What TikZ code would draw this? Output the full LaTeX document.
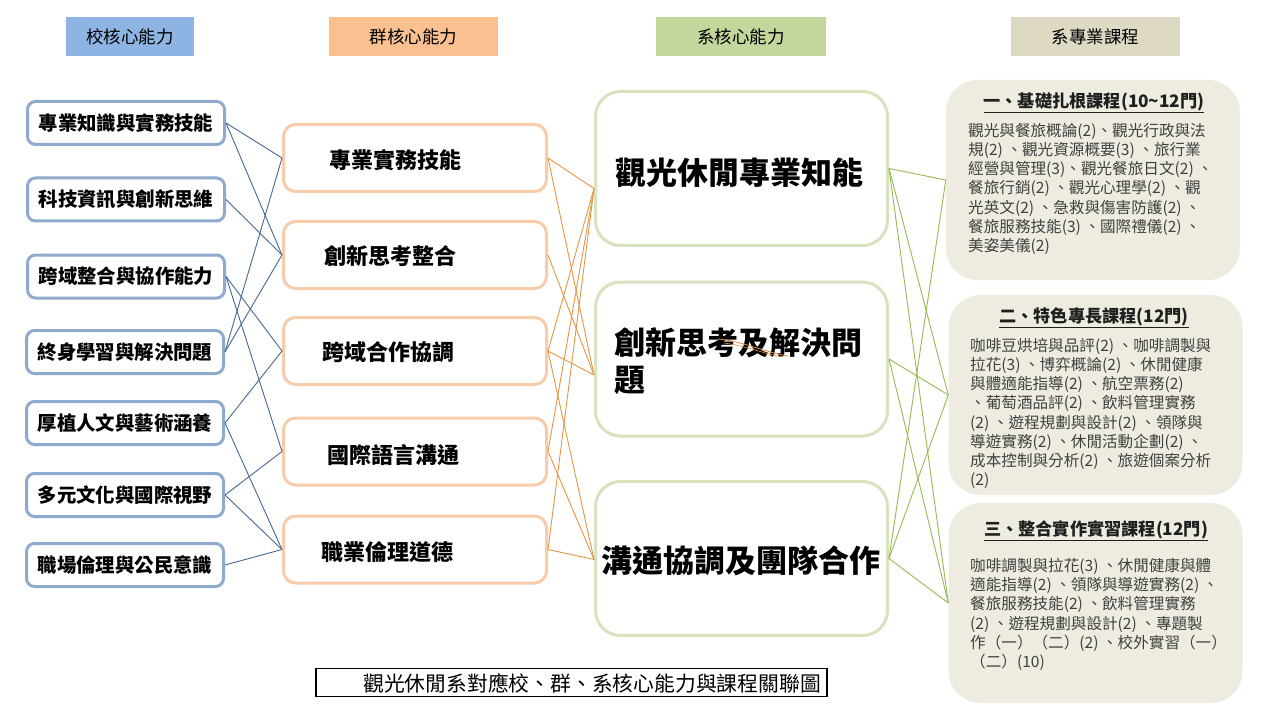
\documentclass[tikz,border=0pt]{standalone}
\usepackage{fontspec}
\setmainfont{Noto Sans CJK TC}
\newfontfamily\cjk{Noto Sans CJK TC}
\definecolor{hblue}{RGB}{141,180,226}
\definecolor{horange}{RGB}{250,192,144}
\definecolor{hgreen}{RGB}{195,214,155}
\definecolor{htan}{RGB}{221,217,195}
\definecolor{sblue}{RGB}{143,170,204}
\definecolor{bline}{RGB}{70,104,146}
\definecolor{gorange}{RGB}{248,203,170}
\definecolor{oline}{RGB}{227,150,72}
\definecolor{dgreen}{RGB}{214,227,190}
\definecolor{gline}{RGB}{150,185,85}
\definecolor{cgray}{RGB}{238,236,225}
\definecolor{ctext}{RGB}{64,64,64}
\tikzset{
  hdr/.style={fill=#1, minimum height=39pt, inner sep=0pt, font=\cjk\fontsize{17.5}{20}\selectfont},
  sbox/.style={draw=sblue, line width=3pt, rounded corners=8pt, minimum width=197pt, minimum height=43pt, fill=white, inner sep=0pt, font=\cjk\bfseries\fontsize{19.4}{22}\selectfont},
  gbox/.style={draw=gorange, line width=3pt, rounded corners=12pt, minimum width=263pt, minimum height=67pt, fill=white},
  gtxt/.style={inner sep=0pt, font=\cjk\bfseries\fontsize{22}{24}\selectfont},
  dbox/.style={draw=dgreen, line width=3pt, rounded corners=25pt, minimum width=292pt, minimum height=154pt, fill=white},
  dtxt/.style={inner sep=0pt, font=\cjk\bfseries\fontsize{31}{37}\selectfont},
  cbox/.style={fill=cgray, rounded corners=32pt, minimum width=294pt, minimum height=200pt},
  ctitle/.style={inner sep=0pt, text=black!88, font=\cjk\bfseries\fontsize{17.2}{20}\selectfont},
  cbody/.style={inner sep=0pt, anchor=north west, align=left, text=ctext, font=\cjk\fontsize{15.6}{19.2}\selectfont},
  bl/.style={draw=bline, line width=0.9pt},
  ol/.style={draw=oline, line width=0.9pt},
  gl/.style={draw=gline, line width=0.9pt},
}
\begin{document}
\begin{tikzpicture}[x=1pt,y=-1pt]
\useasboundingbox (0,0) rectangle (1269,714);
\fill[white] (0,0) rectangle (1269,714);

% headers
\node[hdr=hblue, minimum width=128pt] (h1) at (130,37) {校核心能力};
\node[hdr=horange, minimum width=169pt] (h2) at (413.5,37) {群核心能力};
\node[hdr=hgreen, minimum width=170pt] (h3) at (741,37) {系核心能力};
\node[hdr=htan, minimum width=169pt] (h4) at (1095.5,37) {系專業課程};

% school core
\node[sbox] (s1) at (126,123) {專業知識與實務技能};
\node[sbox] (s2) at (126,199.5) {科技資訊與創新思維};
\node[sbox] (s3) at (126,276.5) {跨域整合與協作能力};
\node[sbox] (s4) at (125,352) {終身學習與解決問題};
\node[sbox] (s5) at (125,423) {厚植人文與藝術涵養};
\node[sbox] (s6) at (125,495) {多元文化與國際視野};
\node[sbox] (s7) at (125,565) {職場倫理與公民意識};

% group core
\node[gbox] (g1) at (415,158) {};
\node[gbox] (g2) at (415,255) {};
\node[gbox] (g3) at (415,351) {};
\node[gbox] (g4) at (415,451.5) {};
\node[gbox] (g5) at (415,549.5) {};
\node[gtxt] (g1t) at (395,160) {專業實務技能};
\node[gtxt] (g2t) at (390,256) {創新思考整合};
\node[gtxt] (g3t) at (388,352) {跨域合作協調};
\node[gtxt] (g4t) at (393,455) {國際語言溝通};
\node[gtxt] (g5t) at (387,552) {職業倫理道德};

% department core
\node[dbox] (d1) at (741.5,168.5) {};
\node[dbox] (d2) at (741.5,359) {};
\node[dbox] (d3) at (741.5,558.5) {};
\node[dtxt] (d1t) at (739,173) {觀光休閒專業知能};
\node[dtxt, anchor=west, align=left] (d2t) at (614,361) {創新思考及解決問\\題};
\node[dtxt] (d3t) at (741,561) {溝通協調及團隊合作};
\draw[draw=oline!80!brown, line width=0.8pt] (718,339) .. controls (742,341) and (764,352) .. (788,356);
\draw[draw=oline!80!brown, line width=0.6pt] (724,343) .. controls (747,346) and (767,355) .. (784,357);

% courses
\node[cbox] (c1) at (1093,180) {};
\node[cbox] (c2) at (1095.5,395) {};
\node[cbox] (c3) at (1095.5,603) {};
\node[ctitle] (c1t) at (1094,103) {\underline{一、基礎扎根課程(10\textasciitilde12門)}};
\node[cbody] (c1b) at (968,123) {觀光與餐旅概論(2)、觀光行政與法\\規(2) 、觀光資源概要(3) 、旅行業\\經營與管理(3)、觀光餐旅日文(2) 、\\餐旅行銷(2) 、觀光心理學(2) 、觀\\光英文(2) 、急救與傷害防護(2) 、\\餐旅服務技能(3) 、國際禮儀(2) 、\\美姿美儀(2)};
\node[ctitle] (c2t) at (1094,318) {\underline{二、特色專長課程(12門)}};
\node[cbody] (c2b) at (970,338) {咖啡豆烘培與品評(2) 、咖啡調製與\\拉花(3) 、博弈概論(2) 、休閒健康\\與體適能指導(2) 、航空票務(2)\\、葡萄酒品評(2) 、飲料管理實務\\(2) 、遊程規劃與設計(2) 、領隊與\\導遊實務(2) 、休閒活動企劃(2) 、\\成本控制與分析(2) 、旅遊個案分析\\(2)};
\node[ctitle] (c3t) at (1096,531) {\underline{三、整合實作實習課程(12門)}};
\node[cbody] (c3b) at (970,558) {咖啡調製與拉花(3) 、休閒健康與體\\適能指導(2) 、領隊與導遊實務(2) 、\\餐旅服務技能(2) 、飲料管理實務\\(2) 、遊程規劃與設計(2) 、專題製\\作（一）（二）(2) 、校外實習（一）\\（二）(10)};

% caption
\node[draw=black, line width=1.5pt, minimum width=511pt, minimum height=28pt, inner sep=0pt] (cap) at (571.5,682.5) {};
\node[inner sep=0pt, font=\cjk\fontsize{20.8}{24}\selectfont] (capt) at (592,683) {觀光休閒系對應校、群、系核心能力與課程關聯圖};

% school -> group
\draw[bl] (s1.east) -- (g1.west);
\draw[bl] (s1.east) -- (g2.west);
\draw[bl] (s2.east) -- (g2.west);
\draw[bl] (s3.east) -- (g3.west);
\draw[bl] (s3.east) -- (g4.west);
\draw[bl] (s4.east) -- (g1.west);
\draw[bl] (s4.east) -- (g2.west);
\draw[bl] (s5.east) -- (g3.west);
\draw[bl] (s5.east) -- (g5.west);
\draw[bl] (s6.east) -- (g4.west);
\draw[bl] (s6.east) -- (g5.west);
\draw[bl] (s7.east) -- (g5.west);

% group -> department
\coordinate (d1in) at ([yshift=-20pt]d1.west);
\coordinate (d2in) at ([yshift=-16pt]d2.west);
\coordinate (d3in) at ([yshift=-1pt]d3.west);
\draw[ol] (g1.east) -- (d1in);
\draw[ol] (g1.east) -- (d2in);
\draw[ol] (g2.east) -- (d2in);
\draw[ol] (g3.east) -- (d1in);
\draw[ol] (g3.east) -- (d2in);
\draw[ol] (g3.east) -- (d3in);
\draw[ol] (g4.east) -- (d1in);
\draw[ol] (g4.east) -- (d3in);
\draw[ol] (g5.east) -- (d1in);
\draw[ol] (g5.east) -- (d3in);

% department -> courses
\draw[gl] (d1.east) -- (c1.west);
\draw[gl] (d1.east) -- (c2.west);
\draw[gl] (d1.east) -- (c3.west);
\draw[gl] (d2.east) -- (c2.west);
\draw[gl] (d2.east) -- (c3.west);
\draw[gl] (d3.east) -- (c1.west);
\draw[gl] (d3.east) -- (c2.west);
\draw[gl] (d3.east) -- (c3.west);
\end{tikzpicture}
\end{document}
